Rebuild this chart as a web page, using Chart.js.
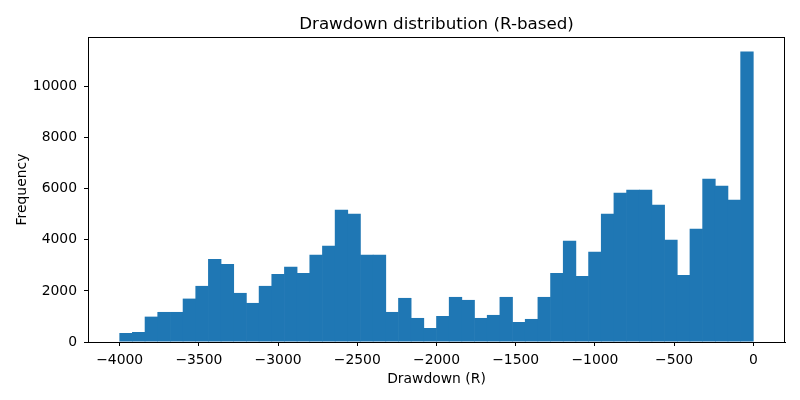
<!DOCTYPE html>
<html>
<head>
<meta charset="utf-8">
<script src="https://cdn.jsdelivr.net/npm/chart.js@4/dist/chart.umd.min.js"></script>
<style>
  html, body { margin: 0; padding: 0; background: #ffffff; }
  canvas { display: block; }
</style>
</head>
<body>
<canvas id="hist" width="800" height="400"></canvas>
<script>
// histogram bins: 50 bins of 80 R from -4000 to 0
const binStart = -4000;
const binWidth = 80;
const counts = [
  353, 392, 993, 1176, 1176, 1699, 2196, 3254, 3058, 1921,
  1529, 2196, 2666, 2941, 2705, 3411, 3764, 5176, 5019, 3411,
  3411, 1176, 1725, 941, 549, 1019, 1764, 1647, 941, 1059,
  1764, 784, 902, 1764, 2705, 3960, 2588, 3529, 5019, 5842,
  5960, 5960, 5372, 4000, 2627, 4431, 6391, 6117, 5568, 11371
];
const xTicks = [-4000, -3500, -3000, -2500, -2000, -1500, -1000, -500, 0];
const yTicks = [0, 2000, 4000, 6000, 8000, 10000];

const points = counts.map((c, i) => ({ x: binStart + binWidth * (i + 0.5), y: c }));

const fontFamily = 'DejaVu Sans, sans-serif';
const tickFont = { family: fontFamily, size: 13.9 };

// draw the full box around the plot area like matplotlib does
const frame = {
  id: 'frame',
  afterDraw(chart) {
    const { ctx, chartArea: a } = chart;
    ctx.save();
    ctx.strokeStyle = '#000000';
    ctx.lineWidth = 1;
    ctx.strokeRect(a.left + 0.5, a.top + 0.5, a.right - a.left - 1, a.bottom - a.top);
    ctx.restore();
  }
};

const fmt = v => String(v).replace('-', '\u2212');

new Chart(document.getElementById('hist').getContext('2d'), {
  type: 'bar',
  data: {
    datasets: [{
      data: points,
      backgroundColor: '#1f77b4',
      borderWidth: 0,
      barPercentage: 1.05, // slight overlap hides antialias seams between bins
      categoryPercentage: 1,
      grouped: false
    }]
  },
  options: {
    responsive: false,
    animation: false,
    devicePixelRatio: 1,
    layout: { padding: { left: 0, right: 15, top: 0, bottom: 0 } },
    plugins: {
      legend: { display: false },
      tooltip: { enabled: false },
      title: { display: false }
    },
    scales: {
      x: {
        type: 'linear',
        min: -4200,
        max: 200,
        offset: false,
        afterBuildTicks: s => { s.ticks = xTicks.map(v => ({ value: v })); },
        afterFit: s => { s.height = 58; },
        ticks: { color: '#000000', font: tickFont, padding: 6, maxRotation: 0, callback: v => fmt(v) },
        grid: { display: true, drawOnChartArea: false, offset: false, tickLength: 4, tickColor: '#000000', tickWidth: 1 },
        border: { display: true, color: '#000000', width: 1 },
        title: {
          display: true,
          text: 'Drawdown (R)',
          color: '#000000',
          font: { family: fontFamily, size: 13.9 },
          padding: { top: 0, bottom: 12 }
        }
      },
      // top axis only carries the title so it centres over the plot area
      top: {
        type: 'linear',
        position: 'top',
        min: -4200,
        max: 200,
        afterFit: s => { s.height = 37; },
        ticks: { display: false },
        grid: { display: false },
        border: { display: false },
        title: {
          display: true,
          text: 'Drawdown distribution (R-based)',
          color: '#000000',
          font: { family: fontFamily, size: 16.7, weight: 'normal' },
          padding: { top: 15, bottom: 0 }
        }
      },
      y: {
        min: 0,
        max: 11940,
        afterBuildTicks: s => { s.ticks = yTicks.map(v => ({ value: v })); },
        afterFit: s => { s.width = 88; },
        ticks: { color: '#000000', font: tickFont, padding: 7, callback: v => String(v) },
        grid: { display: true, drawOnChartArea: false, tickLength: 4, tickColor: '#000000', tickWidth: 1 },
        border: { display: true, color: '#000000', width: 1 },
        title: {
          display: true,
          text: 'Frequency',
          color: '#000000',
          font: { family: fontFamily, size: 13.9 },
          padding: { top: 14, bottom: 0 }
        }
      }
    }
  },
  plugins: [frame]
});
</script>
</body>
</html>
